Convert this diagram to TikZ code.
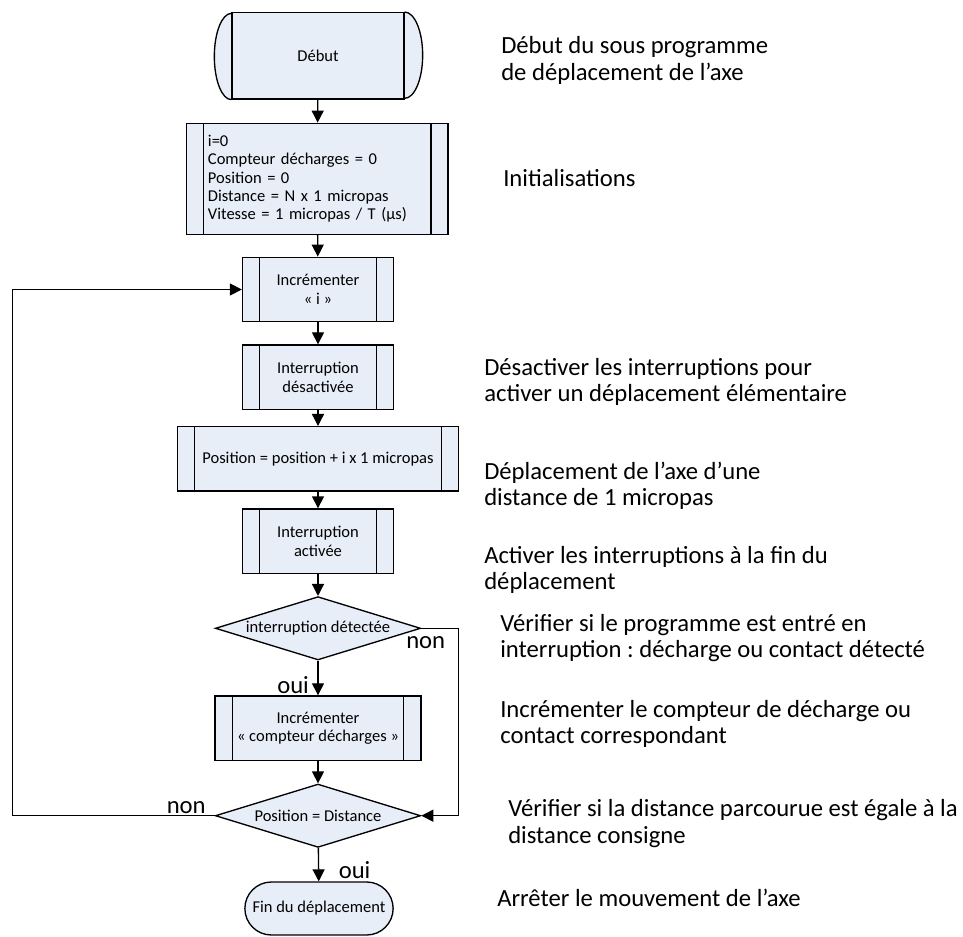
\documentclass[tikz,border=0pt]{standalone}
\usepackage{fontspec}
\setmainfont{Carlito}
\usetikzlibrary{shapes.geometric,shapes.misc,arrows.meta,calc}
\definecolor{boxfill}{RGB}{232,238,248}
\newcommand\myboxfont{\frenchspacing\fontsize{12.4pt}{13.75pt}\selectfont}
\newcommand\myrtfont{\frenchspacing\fontsize{18.5pt}{20pt}\selectfont}
\begin{document}
\begin{tikzpicture}[x=0.75pt,y=-0.75pt,
  base/.style={draw=black, line width=1pt, fill=boxfill},
  subproc/.style={base, rectangle, inner sep=0pt, align=center, font=\myboxfont,
    path picture={
      \draw[line width=0.8pt] ([xshift=12.75pt]path picture bounding box.north west) -- ([xshift=12.75pt]path picture bounding box.south west);
      \draw[line width=0.8pt] ([xshift=-12.75pt]path picture bounding box.north east) -- ([xshift=-12.75pt]path picture bounding box.south east);}},
  smallbox/.style={subproc, minimum width=113.25pt, minimum height=48.3pt},
  decision/.style={base, diamond, aspect=3.24, inner sep=0pt, font=\myboxfont, minimum width=154pt, minimum height=47.5pt},
  arr/.style={-{Triangle[length=9pt,width=9pt]}, line width=1pt},
  lbl/.style={inner sep=0pt, font=\myrtfont},
  note/.style={inner sep=0pt, anchor=north west, align=left, font=\myrtfont}
]
\useasboundingbox (0,0) rectangle (963,937);

% start terminator
\node[base, rectangle, inner sep=0pt, font=\myboxfont, minimum width=129pt, minimum height=64.7pt] (debut) at (318,55.85) {Début};
\draw[base] (debut.north east) arc[start angle=90, end angle=-90, x radius=13.5pt, y radius=32.35pt];
\draw[base] (debut.south west) arc[start angle=270, end angle=90, x radius=12.75pt, y radius=32.35pt];
\draw[line width=0.8pt] (debut.north east) -- (debut.south east);
\draw[line width=0.8pt] (debut.north west) -- (debut.south west);

\node[subproc, text width=164pt, align=left, inner xsep=16pt, minimum width=196pt, minimum height=83.25pt] (init) at (317.3,178.8)
  {i=0\\Compteur décharges = 0\\Position = 0\\Distance = N x 1 micropas\\Vitesse = 1 micropas / T (µs)};

\node[smallbox] (inci) at (318,289.5) {Incrémenter\\« i »};
\node[smallbox] (desact) at (318,377.2) {Interruption\\désactivée};
\node[subproc, minimum width=211pt, minimum height=48.2pt] (pos) at (318,458.8) {Position = position + i x 1 micropas};
\node[smallbox] (act) at (318,541.2) {Interruption\\activée};
\node[decision] (d1) at (318,628.3) {interruption détectée};
\node[subproc, minimum width=154.3pt, minimum height=48.5pt] (cpt) at (318,728.3) {Incrémenter\\« compteur décharges »};
\node[decision] (d2) at (318,815.7) {Position = Distance};
\node[base, rounded rectangle, inner sep=0pt, font=\myboxfont, minimum width=111.2pt, minimum height=39.75pt] (fin) at (319,908.5) {Fin du déplacement};

% connectors
\draw[arr] (debut) -- (init);
\draw[arr] (init) -- (inci);
\draw[arr] (inci) -- (desact);
\draw[arr] (desact) -- (pos);
\draw[arr] (pos) -- (act);
\draw[arr] (act) -- (d1);
\draw[arr] (d1) -- (cpt);
\draw[arr] (cpt) -- (d2);
\draw[arr] (d2) -- (fin);
\coordinate (rt) at (458.3,628.3);
\draw[arr] (d1.east) -- (rt) |- (d2.east);
\coordinate (lt) at (12.7,815.7);
\draw[arr] (d2.west) -- (lt) |- (inci.west);

% branch labels
\node[lbl, anchor=base west] (non1) at (406,648) {non};
\node[lbl, anchor=base west] (oui1) at (277,693) {oui};
\node[lbl, anchor=base west] (non2) at (166.5,813) {non};
\node[lbl, anchor=base west] (oui2) at (338.5,878) {oui};

% annotations
\node[note] (t1) at (501,33.3) {\rule{0pt}{15pt}Début du sous programme\\de déplacement de l’axe};
\node[note] (t2) at (503,166.7) {\rule{0pt}{15pt}Initialisations};
\node[note] (t3) at (484,355) {\rule{0pt}{15pt}Désactiver les interruptions pour\\activer un déplacement élémentaire};
\node[note] (t4) at (484,459) {\rule{0pt}{15pt}Déplacement de l’axe d’une\\distance de 1 micropas};
\node[note] (t5) at (484,543) {\rule{0pt}{15pt}Activer les interruptions à la fin du\\déplacement};
\node[note] (t6) at (500,611) {\rule{0pt}{15pt}Vérifier si le programme est entré en\\interruption : décharge ou contact détecté};
\node[note] (t7) at (500,697) {\rule{0pt}{15pt}Incrémenter le compteur de décharge ou\\contact correspondant};
\node[note] (t8) at (508,796.7) {\rule{0pt}{15pt}Vérifier si la distance parcourue est égale à la\\distance consigne};
\node[note] (t9) at (497,886) {\rule{0pt}{15pt}Arrêter le mouvement de l’axe};
\end{tikzpicture}
\end{document}
